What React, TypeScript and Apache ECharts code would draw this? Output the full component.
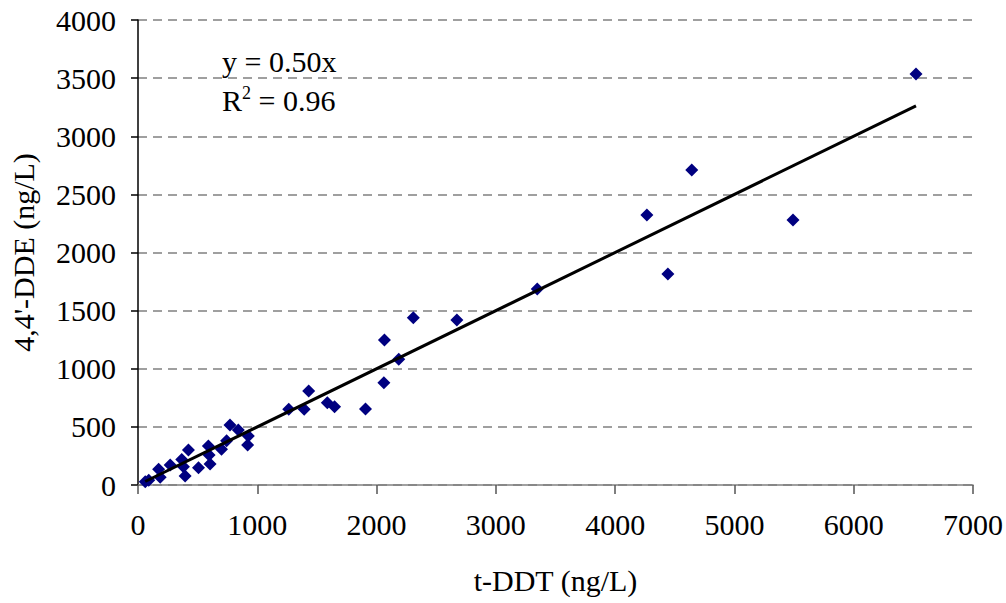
import React, { useEffect, useRef } from "react";
import * as echarts from "echarts";

const tDDT = [61, 90, 173, 186, 270, 367, 423, 381, 395, 507, 590, 604, 596, 700, 743, 771, 841, 925, 919,
  1264, 1393, 1431, 1587, 1648, 1907, 2061, 2066, 2186, 2308, 2673, 3347, 4266, 4442, 4642, 5491, 6522];
const dde = [28, 40, 135, 66, 172, 220, 301, 158, 77, 149, 335, 181, 258, 307, 381, 516, 473, 421, 344,
  651, 651, 809, 708, 674, 654, 880, 1247, 1081, 1439, 1419, 1686, 2323, 1815, 2710, 2280, 3535];
const trendSlope = 0.5;
const trendX = [60, 6522];
const equationText = "y = 0.50x";
const r2Text = "0.96";
const xAxisName = "t-DDT (ng/L)";
const yAxisName = "4,4'-DDE (ng/L)";

export default function App() {
  const ref = useRef<HTMLDivElement>(null);
  useEffect(() => {
    document.body.style.margin = "0";
    const chart = echarts.init(ref.current!, null, { renderer: "svg" });
    const font = "'Liberation Serif', 'Times New Roman', serif";
    const fs = 30;
    const pts = tDDT.map((x, i) => [x, dde[i]]);
    const trend = trendX.map((x) => [x, x * trendSlope]);
    chart.setOption({
      animation: false,
      backgroundColor: "#ffffff",
      grid: { left: 136, right: 32, top: 20, bottom: 118 },
      xAxis: {
        type: "value",
        min: 0,
        max: 7000,
        interval: 1000,
        name: xAxisName,
        nameLocation: "middle",
        nameGap: 80,
        nameTextStyle: { fontFamily: font, fontSize: fs, color: "#000" },
        axisLine: { onZero: false, lineStyle: { color: "#808080", width: 1.5 } },
        axisTick: { show: true, inside: false, length: 9, lineStyle: { color: "#555", width: 1.5 } },
        axisLabel: { fontFamily: font, fontSize: fs, color: "#000", margin: 24, formatter: (v: number) => String(v) },
        splitLine: { show: false },
      },
      yAxis: {
        type: "value",
        min: 0,
        max: 4000,
        interval: 500,
        name: yAxisName,
        nameLocation: "middle",
        nameGap: 100,
        nameRotate: 90,
        nameTextStyle: { fontFamily: font, fontSize: fs, color: "#000" },
        axisLine: { show: true, lineStyle: { color: "#000", width: 1.5 } },
        axisTick: { show: true, inside: false, length: 7, lineStyle: { color: "#000", width: 1.5 } },
        axisLabel: { fontFamily: font, fontSize: fs, color: "#000", margin: 22, formatter: (v: number) => String(v) },
        splitLine: { show: true, lineStyle: { color: "#808080", type: [9, 6], width: 1.5 } },
      },
      series: [
        {
          type: "scatter",
          data: pts,
          symbol: "diamond",
          symbolSize: 13,
          itemStyle: { color: "#000080", opacity: 1 },
          z: 2,
        },
        {
          type: "line",
          data: trend,
          showSymbol: false,
          symbol: "none",
          lineStyle: { color: "#000", width: 3 },
          z: 3,
        },
      ],
      graphic: [
        {
          type: "text",
          left: 222,
          top: 46,
          style: { text: equationText, font: `${fs}px ${font}`, fill: "#000" },
        },
        {
          type: "text",
          left: 222,
          top: 84,
          style: {
            text: "R{sup|2} = " + r2Text,
            font: `${fs}px ${font}`,
            fill: "#000",
            rich: { sup: { fontSize: 18, fontFamily: font, verticalAlign: "top", padding: [0, 0, 14, 0], fill: "#000" } },
          },
        },
      ],
    });
    return () => chart.dispose();
  }, []);
  return <div ref={ref} style={{ width: 1006, height: 603, position: "fixed", left: 0, top: 0 }} />;
}
